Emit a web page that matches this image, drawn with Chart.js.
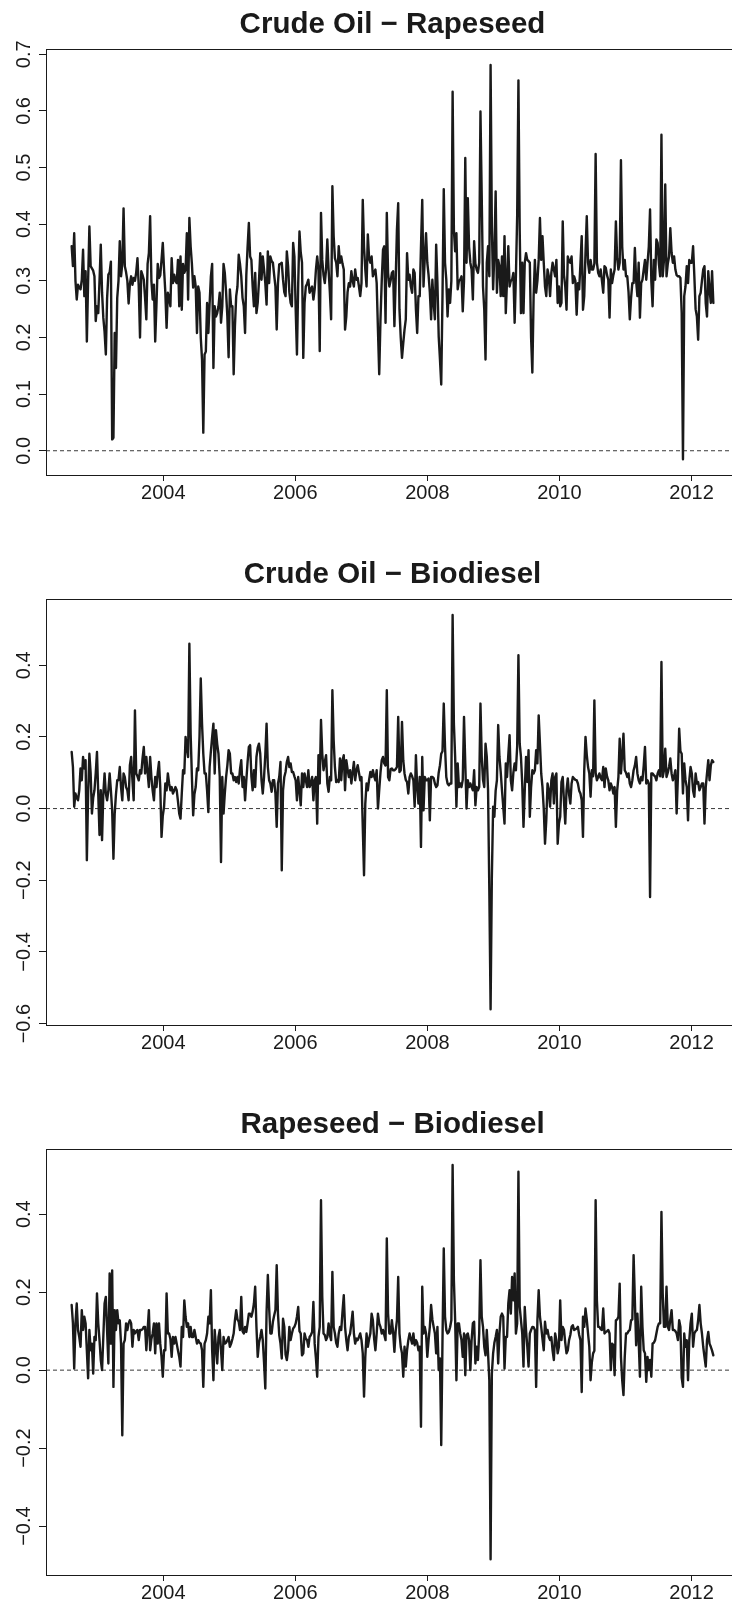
<!DOCTYPE html>
<html>
<head>
<meta charset="utf-8">
<title>Dynamic correlations</title>
<script src="https://cdn.jsdelivr.net/npm/chart.js@4.4.1/dist/chart.umd.min.js"></script>
<style>
  html, body { margin: 0; padding: 0; background: #ffffff; }
  body { width: 732px; height: 1605px; overflow: hidden; position: relative; }
  .panel { position: absolute; left: 0; width: 760px; height: 550px; }
  .panel canvas { display: block; }
</style>
</head>
<body>
<div class="panel" style="top:0px"><canvas id="p1" width="760" height="550"></canvas></div>
<div class="panel" style="top:550px"><canvas id="p2" width="760" height="550"></canvas></div>
<div class="panel" style="top:1100px"><canvas id="p3" width="760" height="550"></canvas></div>
<script>
// Weekly series, first observation in mid-August 2002
const FIRST_WEEK = 2002.613;
const WEEK = 7 / 365.25;

const titles = ['Crude Oil \u2212 Rapeseed', 'Crude Oil \u2212 Biodiesel', 'Rapeseed \u2212 Biodiesel'];
const xTicks = [2004, 2006, 2008, 2010, 2012];
const yTicksCrudeRapeseed = [0, 0.1, 0.2, 0.3, 0.4, 0.5, 0.6, 0.7];
const yTicksCrudeBiodiesel = [-0.6, -0.4, -0.2, 0, 0.2, 0.4];
const yTicksRapeseedBiodiesel = [-0.4, -0.2, 0, 0.2, 0.4];

const crudeRapeseed = [
0.361,0.326,0.384,0.300,0.267,0.293,0.288,0.285,0.302,0.355,
0.273,0.317,0.193,0.300,0.396,0.326,0.322,0.318,0.308,0.229,
0.255,0.243,0.300,0.364,0.280,0.235,0.210,0.170,0.270,0.311,
0.315,0.334,0.020,0.023,0.208,0.146,0.270,0.300,0.370,0.308,
0.330,0.428,0.326,0.315,0.300,0.260,0.295,0.308,0.293,0.305,
0.300,0.315,0.340,0.290,0.200,0.317,0.310,0.302,0.270,0.232,
0.330,0.349,0.414,0.300,0.267,0.293,0.193,0.258,0.330,0.305,
0.310,0.337,0.367,0.320,0.280,0.217,0.279,0.270,0.255,0.340,
0.296,0.311,0.300,0.296,0.337,0.255,0.343,0.249,0.330,0.314,
0.320,0.384,0.267,0.411,0.361,0.330,0.288,0.308,0.290,0.208,
0.290,0.279,0.200,0.161,0.032,0.170,0.175,0.261,0.208,0.260,
0.308,0.330,0.146,0.255,0.237,0.243,0.255,0.279,0.226,0.255,
0.330,0.314,0.280,0.237,0.165,
0.285,0.255,0.255,0.135,0.220,0.273,0.290,0.346,0.330,0.308,
0.270,0.255,0.208,0.311,0.360,0.402,0.343,0.337,0.290,0.255,
0.314,0.243,0.261,0.300,0.349,0.302,0.343,0.320,0.296,0.258,
0.352,0.296,0.343,0.335,0.332,0.310,0.290,0.214,0.296,0.329,
0.330,0.332,0.302,0.280,0.273,0.352,0.326,0.280,0.261,0.255,
0.367,0.343,0.250,0.170,0.296,0.387,0.350,0.332,0.164,0.261,
0.290,0.295,0.302,0.279,0.285,0.290,0.267,0.285,0.320,0.343,
0.320,0.176,0.420,0.337,0.310,0.296,0.320,0.373,0.320,0.280,
0.232,0.467,0.379,0.340,0.332,0.308,0.361,0.332,0.343,0.330,
0.320,0.214,0.237,0.280,0.296,0.290,0.317,0.300,0.290,0.320,
0.302,0.305,0.290,0.273,0.296,0.443,0.360,0.320,0.290,0.382,
0.340,0.332,0.343,0.308,0.315,0.320,0.296,0.214,0.135,0.232,
0.300,0.355,0.361,0.226,0.420,0.314,0.290,
0.300,0.314,0.317,0.220,0.300,0.390,0.437,0.250,0.200,0.164,
0.190,0.214,0.232,0.349,0.302,0.311,0.290,0.279,0.320,0.314,
0.250,0.208,0.273,0.273,0.360,0.443,0.290,0.340,0.384,0.332,
0.310,0.280,0.232,0.302,0.261,0.232,0.364,0.296,0.202,0.161,
0.117,0.273,0.462,0.332,0.302,0.237,0.285,0.261,0.300,0.634,
0.390,0.352,0.384,0.285,0.300,0.302,0.308,0.246,0.300,0.517,
0.332,0.446,0.360,0.332,0.320,0.267,0.370,0.330,0.320,0.314,
0.332,0.599,0.449,0.290,0.249,0.161,0.332,0.361,0.308,0.681,
0.396,0.285,0.350,0.458,0.279,0.337,0.326,0.273,0.343,0.273,
0.379,0.243,0.302,0.361,0.290,0.300,0.302,0.314,0.226,0.308,
0.414,0.654,0.390,0.243,0.332,0.243,0.332,0.349,0.337,0.335,
0.332,0.200,0.138,0.273,0.337,0.279,0.300,0.337,0.411,0.337,
0.379,0.332,0.290,0.273,0.320,0.308,0.273,0.314,0.332,0.320,
0.308,0.337,0.261,0.290,
0.255,0.261,0.405,0.310,0.290,0.249,0.343,0.335,0.332,0.343,
0.296,0.308,0.300,0.240,0.296,0.285,0.330,0.379,0.249,0.273,
0.350,0.414,0.332,0.314,0.337,0.320,0.320,0.330,0.524,0.332,
0.314,0.308,0.320,0.300,0.279,0.326,0.323,0.310,0.302,0.235,
0.320,0.296,0.310,0.320,0.405,0.340,0.320,0.332,0.513,0.360,
0.320,0.337,0.308,0.308,0.280,0.232,0.270,0.296,0.296,0.358,
0.300,0.273,0.332,0.235,0.296,0.302,0.320,0.337,0.302,0.332,
0.360,0.426,0.300,0.255,0.337,0.302,0.373,0.367,0.330,0.308,
0.558,0.308,0.337,0.470,0.308,0.330,0.343,0.393,0.350,0.332,
0.343,0.320,0.310,0.308,0.308,0.305,0.243,-0.015,0.273,0.290,
0.326,0.296,0.337,0.332,0.332,0.361,0.308,0.250,0.237,0.196,
0.273,0.279,0.300,0.320,0.326,0.260,0.237,0.317,0.285,0.261,
0.317,0.261
];

const crudeBiodiesel = [
0.158,0.116,0.005,0.042,0.030,0.023,0.051,0.112,0.079,0.144,
0.112,0.135,-0.144,0.042,0.153,0.098,-0.014,0.030,0.051,0.098,
0.158,0.042,-0.074,0.051,-0.088,0.042,0.098,0.042,0.023,0.051,
0.098,0.050,-0.005,-0.140,-0.014,0.040,0.079,0.079,0.116,0.060,
0.023,0.098,0.088,0.060,0.051,0.023,0.121,0.144,0.080,0.023,
0.274,0.098,0.090,0.079,0.107,0.098,0.140,0.172,0.098,0.144,
0.100,0.060,0.144,0.088,0.050,0.023,0.088,0.060,0.100,0.130,
0.060,-0.079,-0.020,0.005,0.070,0.051,0.098,0.070,0.051,0.060,
0.042,0.050,0.060,0.051,0.020,-0.014,-0.028,0.042,0.107,0.098,
0.200,0.170,0.144,0.460,0.209,0.088,-0.019,0.040,0.060,0.112,
0.107,0.200,0.363,0.237,0.153,0.098,0.098,0.050,-0.010,0.116,
0.160,0.200,0.237,0.098,0.219,0.180,0.153,0.088,-0.149,0.088,
-0.014,0.042,0.088,0.120,0.163,
0.153,0.098,0.098,0.079,0.088,0.074,0.088,0.070,0.110,0.135,
0.060,0.088,0.023,0.079,0.130,0.172,0.177,0.090,0.051,0.107,
0.060,0.144,0.170,0.181,0.153,0.079,0.042,0.088,0.150,0.237,
0.116,0.079,0.070,0.047,0.079,0.079,0.042,-0.051,0.070,0.088,
0.130,-0.172,0.051,0.088,0.102,0.130,0.144,0.116,0.126,0.102,
0.102,0.090,0.079,0.023,0.088,0.051,0.009,0.098,0.060,0.098,
0.080,0.060,0.107,0.060,0.070,0.088,0.023,0.079,0.088,-0.042,
0.149,0.070,0.247,0.153,0.107,0.130,0.149,0.070,0.047,0.088,
0.079,0.330,0.191,0.116,0.074,0.080,0.074,0.140,0.079,0.135,
0.149,0.051,0.135,0.110,0.088,0.107,0.070,0.100,0.130,0.079,
0.107,0.121,0.100,0.079,0.088,-0.050,-0.186,0.014,0.070,0.051,
0.080,0.102,0.088,0.107,0.090,0.079,0.107,0.000,0.051,0.100,
0.135,0.144,0.126,0.120,0.330,0.088,0.079,
0.110,0.112,0.107,0.107,0.110,0.116,0.256,0.102,0.107,0.242,
0.135,0.098,0.080,0.074,0.042,0.088,0.098,0.090,0.079,0.005,
0.149,0.060,0.014,0.088,-0.107,0.144,-0.005,0.088,0.079,0.079,
0.084,-0.033,0.088,0.088,0.085,0.070,0.060,0.065,0.100,0.121,
0.153,0.160,0.293,0.172,0.088,0.070,0.065,0.070,0.070,0.540,
0.237,0.144,0.005,0.126,0.060,0.070,0.060,0.080,0.256,0.126,
0.000,0.079,0.060,0.070,0.060,0.051,0.107,0.009,0.060,0.051,
0.060,0.293,0.144,0.080,0.060,0.181,0.144,0.051,-0.228,-0.560,
-0.191,0.005,-0.023,0.050,0.079,0.233,0.144,0.102,0.051,0.005,
-0.042,0.126,0.088,0.150,0.205,0.079,0.051,0.100,0.126,0.107,
0.172,0.428,0.181,0.144,0.070,-0.051,0.051,0.144,0.074,0.163,
-0.023,0.060,0.107,0.098,0.107,0.163,0.126,0.260,0.181,0.098,
0.060,0.000,-0.098,-0.033,0.070,0.051,0.005,0.079,0.098,0.014,
0.088,0.098,-0.098,-0.042,
-0.023,0.074,0.088,0.020,-0.042,0.051,0.084,0.040,0.014,0.070,
0.088,0.084,0.080,0.079,0.070,0.050,0.042,0.023,-0.079,0.107,
0.200,0.150,0.116,0.098,0.033,0.107,0.090,0.302,0.100,0.079,
0.088,0.098,0.085,0.079,0.116,0.060,0.112,0.090,0.079,0.051,
0.070,0.060,0.042,0.060,-0.051,0.050,0.088,0.195,0.098,0.150,
0.209,0.107,0.100,0.088,0.098,0.070,0.060,0.079,0.107,0.120,
0.144,0.098,0.079,0.070,0.088,0.079,0.120,0.172,0.070,0.079,
0.070,-0.247,0.098,0.098,0.093,0.090,0.079,0.098,0.107,0.090,
0.409,0.088,0.107,0.167,0.088,0.100,0.116,0.140,0.098,0.079,
0.090,0.107,-0.014,0.088,0.223,0.160,0.153,0.042,0.126,0.080,
0.060,-0.033,0.079,0.116,0.098,0.050,0.033,0.098,0.070,0.074,
0.051,0.060,0.070,0.070,-0.042,0.060,0.098,0.135,0.079,0.120,
0.135,0.130
];

const rapeseedBiodiesel = [
0.167,0.120,0.004,0.120,0.171,0.103,0.085,0.060,0.154,0.103,
0.137,0.120,0.050,-0.021,0.103,0.051,0.068,-0.009,0.085,0.077,
0.197,0.120,0.077,0.026,0.000,0.085,0.171,0.188,0.100,0.017,
0.248,0.068,0.256,-0.043,0.154,0.103,0.154,0.120,0.128,0.068,
-0.167,0.068,0.077,0.120,0.103,0.120,0.128,0.120,0.060,0.103,
0.094,0.100,0.103,0.077,0.103,0.103,0.105,0.111,0.111,0.051,
0.103,0.154,0.051,0.080,0.094,0.120,0.043,0.120,0.068,0.120,
0.068,0.034,-0.017,0.051,0.051,0.197,0.094,0.094,0.080,0.034,
0.085,0.068,0.085,0.068,0.050,0.034,0.009,0.111,0.085,0.179,
0.137,0.111,0.120,0.085,0.111,0.085,0.085,0.103,0.085,0.068,
0.077,0.070,0.068,0.051,-0.043,0.068,0.077,0.094,0.137,0.120,
0.205,0.051,-0.026,0.103,0.060,0.017,0.085,0.103,0.051,0.000,
0.085,0.068,0.070,0.077,0.085,
0.060,0.068,0.080,0.094,0.128,0.154,0.130,0.124,0.103,0.188,
0.100,0.094,0.111,0.098,0.120,0.145,0.145,0.137,0.150,0.171,
0.214,0.111,0.034,0.070,0.085,0.103,0.077,0.020,-0.047,0.150,
0.244,0.162,0.094,0.094,0.124,0.140,0.154,0.269,0.145,0.090,
0.068,0.030,0.132,0.111,0.040,0.026,0.051,0.111,0.077,0.094,
0.107,0.111,0.120,0.137,0.162,0.100,0.094,0.038,0.043,0.094,
0.081,0.077,0.060,0.085,0.090,0.098,0.175,0.068,0.030,-0.017,
0.085,0.111,0.436,0.188,0.094,0.090,0.077,0.085,0.120,0.090,
0.077,0.252,0.111,0.094,0.070,0.060,0.094,0.111,0.103,0.150,
0.192,0.111,0.077,0.051,0.085,0.094,0.120,0.150,0.094,0.068,
0.081,0.077,0.085,0.094,0.077,0.043,-0.068,0.034,0.094,0.060,
0.080,0.094,0.145,0.128,0.080,0.051,0.094,0.145,0.120,0.111,
0.094,0.103,0.090,0.077,0.338,0.145,0.094,
0.094,0.128,0.098,0.047,0.100,0.128,0.239,0.094,0.060,0.043,
-0.017,0.060,0.009,0.051,0.077,0.094,0.080,0.068,0.094,0.064,
0.077,0.070,0.051,0.060,-0.145,0.214,0.094,0.111,0.094,0.034,
0.077,0.111,0.167,0.130,0.111,0.094,0.043,0.111,0.000,0.030,
-0.192,0.077,0.312,0.137,0.103,0.094,0.098,0.110,0.128,0.526,
0.231,0.128,-0.026,0.120,0.120,0.094,0.077,0.034,0.094,-0.013,
0.090,0.094,0.077,0.000,0.077,0.120,0.124,0.017,0.060,0.026,
0.094,0.282,0.137,0.111,0.060,0.038,0.103,0.043,-0.026,-0.485,
-0.009,0.043,0.070,0.085,0.103,0.017,0.094,0.137,0.145,0.137,
0.004,0.085,0.085,0.171,0.205,0.145,0.239,0.179,0.248,0.094,
0.120,0.509,0.162,0.128,0.094,0.009,0.162,0.103,0.060,0.009,
0.094,0.103,0.111,0.110,0.103,-0.043,0.128,0.205,0.137,0.111,
0.080,0.051,0.124,0.094,0.103,0.085,0.077,0.085,0.050,0.026,
0.094,0.077,0.043,0.060,
0.179,0.077,0.111,0.103,0.070,0.043,0.051,0.077,0.090,0.111,
0.115,0.103,0.105,0.107,0.111,0.090,0.077,-0.056,0.137,0.111,
0.158,0.130,0.094,0.060,-0.026,0.020,0.043,0.050,0.436,0.179,
0.111,0.111,0.105,0.103,0.158,0.094,0.098,0.100,0.103,0.094,
0.000,0.068,0.064,-0.013,0.128,0.130,0.137,0.222,0.034,-0.026,
-0.064,0.034,0.094,0.094,0.100,0.103,0.128,0.130,0.295,0.179,
0.064,0.145,0.077,-0.017,0.214,0.111,0.051,0.043,-0.030,0.034,
0.000,0.026,-0.017,0.068,0.070,0.077,0.094,0.111,0.120,0.120,
0.406,0.197,0.111,0.111,0.214,0.111,0.103,0.130,0.154,0.103,
0.103,0.100,0.094,0.077,0.128,0.111,-0.020,-0.043,0.094,0.060,
0.077,-0.026,0.077,0.120,0.145,0.060,0.094,0.100,0.103,0.128,
0.167,0.120,0.094,0.060,0.034,0.009,0.077,0.098,0.068,0.060,
0.050,0.038
];

const weeks = crudeRapeseed.map((_, i) => FIRST_WEEK + i * WEEK);

const FONT = '"Liberation Sans", Arial, Helvetica, sans-serif';
const INK = '#1a1a1a';
const TICK_SIZE = 20;
const AXIS_W = 46;        // left margin up to the plot frame
const Y_TICK_LEN = 7;
const LABEL_CX = 24.2;    // centre line of the rotated y labels

// plot limits widened by 4% on each side, as in base R graphics
function widen(lo, hi) { const d = (hi - lo) * 0.04; return [lo - d, hi + d]; }
function fmtY(v) { return (Math.abs(v) < 1e-9 ? 0 : v).toFixed(1).replace('-', '\u2212'); }

const measureCtx = document.createElement('canvas').getContext('2d');
measureCtx.font = TICK_SIZE + 'px ' + FONT;

const plotFrame = {
  id: 'plotFrame',
  afterDatasetsDraw(chart) {
    const { ctx, chartArea: a } = chart;
    ctx.save();
    ctx.strokeStyle = INK;
    ctx.lineWidth = 1;
    const l = Math.round(a.left) + 0.5, t = Math.round(a.top) + 0.5;
    const r = Math.round(a.right) + 0.5, b = Math.round(a.bottom) + 0.5;
    ctx.strokeRect(l, t, r - l, b - t);
    ctx.restore();
  }
};

function drawPanel(canvasId, title, values, yTicks) {
  const [xMin, xMax] = widen(weeks[0], weeks[weeks.length - 1]);
  const [yMin, yMax] = widen(Math.min(...values), Math.max(...values));
  const widest = Math.max(...yTicks.map(v => measureCtx.measureText(fmtY(v)).width));
  const yPad = AXIS_W - Y_TICK_LEN - LABEL_CX - widest / 2;

  new Chart(document.getElementById(canvasId), {
    type: 'line',
    data: {
      datasets: [
        {
          data: weeks.map((w, i) => ({ x: w, y: values[i] })),
          borderColor: INK,
          borderWidth: 2.4,
          borderJoinStyle: 'round',
          borderCapStyle: 'round',
          pointRadius: 0,
          tension: 0
        },
        {
          data: [{ x: xMin, y: 0 }, { x: xMax, y: 0 }],
          borderColor: '#3a3a3a',
          borderWidth: 1,
          borderDash: [4, 3],
          pointRadius: 0,
          tension: 0
        }
      ]
    },
    options: {
      responsive: false,
      animation: false,
      devicePixelRatio: 1,
      events: [],
      layout: { padding: { top: 7.1, left: 0, right: 21, bottom: 35 } },
      plugins: {
        legend: { display: false },
        tooltip: { enabled: false },
        title: {
          display: true,
          text: title,
          fullSize: false,
          color: INK,
          font: { family: FONT, size: 29.5, weight: 'bold', lineHeight: 1.2 },
          padding: { top: 0, bottom: 6.8 }
        }
      },
      scales: {
        x: {
          type: 'linear',
          min: xMin,
          max: xMax,
          afterBuildTicks: s => { s.ticks = xTicks.map(v => ({ value: v })); },
          afterFit: s => { s.height = 40; },
          grid: { display: true, drawOnChartArea: false, drawTicks: true, tickLength: 6, color: INK, lineWidth: 1 },
          border: { display: false },
          ticks: {
            autoSkip: false, maxRotation: 0, minRotation: 0, padding: 0,
            color: INK, font: { family: FONT, size: TICK_SIZE },
            callback: v => String(v)
          }
        },
        y: {
          type: 'linear',
          min: yMin,
          max: yMax,
          afterBuildTicks: s => { s.ticks = yTicks.map(v => ({ value: v })); },
          afterFit: s => { s.width = AXIS_W; },
          grid: { display: true, drawOnChartArea: false, drawTicks: true, tickLength: Y_TICK_LEN, color: INK, lineWidth: 1 },
          border: { display: false },
          ticks: {
            autoSkip: false, minRotation: 90, maxRotation: 90,
            crossAlign: 'center', padding: yPad,
            color: INK, font: { family: FONT, size: TICK_SIZE },
            callback: v => fmtY(v)
          }
        }
      }
    },
    plugins: [plotFrame]
  });
}

drawPanel('p1', titles[0], crudeRapeseed, yTicksCrudeRapeseed);
drawPanel('p2', titles[1], crudeBiodiesel, yTicksCrudeBiodiesel);
drawPanel('p3', titles[2], rapeseedBiodiesel, yTicksRapeseedBiodiesel);
</script>
</body>
</html>
